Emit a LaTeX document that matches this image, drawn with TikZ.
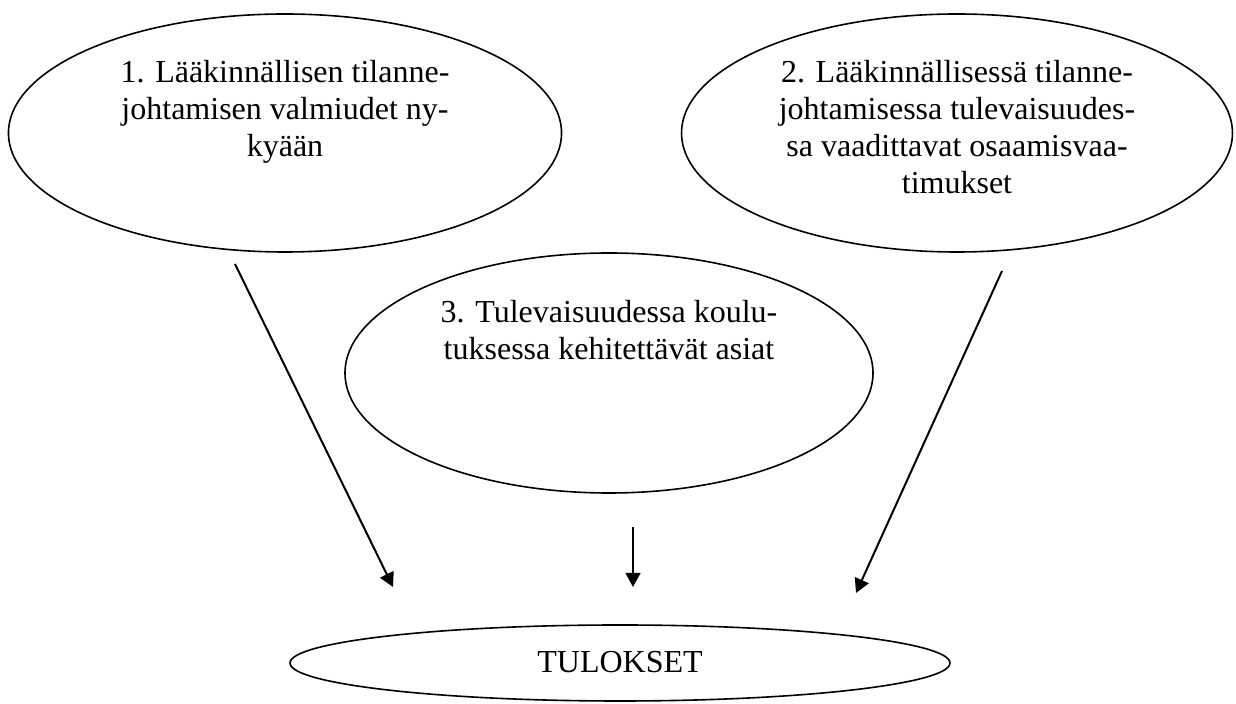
\documentclass[tikz,border=0pt]{standalone}
\usepackage{fontspec}
\setmainfont{Liberation Serif}
\usetikzlibrary{shapes.geometric,arrows.meta}
\begin{document}
\begin{tikzpicture}[x=0.375pt,y=-0.375pt,
  oval/.style={ellipse,draw,line width=0.6pt,inner sep=0pt},
  label text/.style={anchor=base,align=center,inner sep=0pt,font=\fontsize{12}{13.875}\selectfont},
  conn/.style={line width=0.75pt,-{Triangle[length=5.3pt,width=5.6pt]}}]
\useasboundingbox (0,0) rectangle (1236,704);
% ellipses
\node[oval,minimum width=207.4pt,minimum height=89.25pt] (e1) at (285,133) {};
\node[oval,minimum width=206.6pt,minimum height=89.25pt] (e2) at (957,133) {};
\node[oval,minimum width=198pt,minimum height=90pt] (e3) at (609,373) {};
\node[oval,minimum width=247.5pt,minimum height=28.5pt] (e4) at (620,663) {};
% texts (anchored at the baseline of the last line)
\node[label text] (t1) at (285,157) {1. Lääkinnällisen tilanne-\\johtamisen valmiudet ny-\\kyään};
\node[label text] (t2) at (957,194) {2. Lääkinnällisessä tilanne-\\johtamisessa tulevaisuudes-\\sa vaadittavat osaamisvaa-\\timukset};
\node[label text] (t3) at (609,360) {3. Tulevaisuudessa koulu-\\tuksessa kehitettävät asiat};
\node[label text] (t4) at (620,673) {TULOKSET};
% arrows
\coordinate (a1s) at (235,264);
\coordinate (a1e) at (393,587);
\coordinate (a2s) at (1002,271);
\coordinate (a2e) at (856,593);
\coordinate (a3s) at (633,527);
\coordinate (a3e) at (633,587);
\draw[conn] (a1s) -- (a1e);
\draw[conn] (a2s) -- (a2e);
\draw[conn] (a3s) -- (a3e);
\end{tikzpicture}
\end{document}
